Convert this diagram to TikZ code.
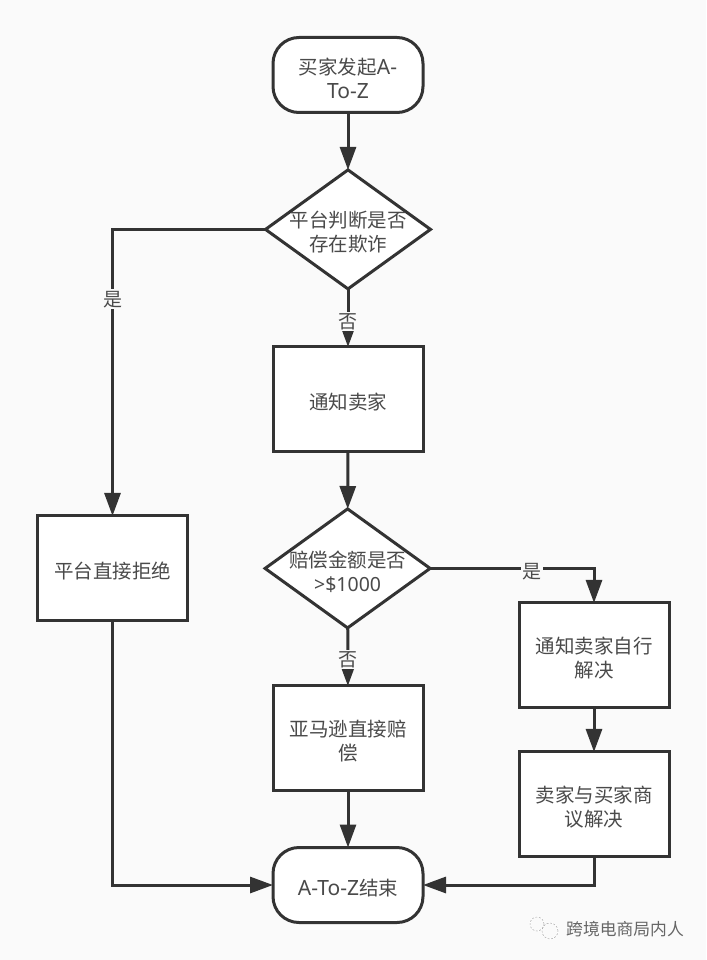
\documentclass[tikz,border=0pt]{standalone}
\usepackage{fontspec}
\setmainfont{Noto Sans CJK SC}
\newfontfamily\latfont{Noto Sans}
\newcommand{\lat}[1]{{\latfont\fontsize{21pt}{24pt}\selectfont #1}}
\newcommand{\num}[1]{{\latfont\fontsize{19.5pt}{24pt}\selectfont #1}}
\usetikzlibrary{shapes.geometric,arrows.meta}
\definecolor{bgcol}{HTML}{FAFAFA}
\definecolor{linecol}{HTML}{333333}
\definecolor{textcol}{HTML}{4A4A4A}
\tikzset{
  procbox/.style={draw=linecol,fill=white,line width=3pt,minimum width=150pt,minimum height=105pt,inner sep=0pt,outer sep=0pt},
  termbox/.style={procbox,minimum height=75pt,rounded corners=26pt},
  decbox/.style={draw=linecol,fill=white,line width=3pt,diamond,aspect=1.38,minimum width=165pt,minimum height=119pt,inner sep=0pt,outer sep=0pt},
  boxtext/.style={align=center,text=textcol,yshift=-3pt,font=\fontsize{19.5pt}{24pt}\selectfont},
  flow/.style={draw=linecol,line width=3pt,-{Triangle[length=23pt,width=16pt]}},
  yesno/.style={fill=bgcol,text=textcol,inner sep=1.5pt,font=\fontsize{19pt}{20pt}\selectfont},
}
\begin{document}
\begin{tikzpicture}[x=1pt,y=-1pt]
\fill[bgcol] (0,0) rectangle (706,960);
\useasboundingbox (0,0) rectangle (706,960);
\node[termbox,label={[boxtext]center:买家发起\lat{A-}\\\lat{To-Z}}] (start) at (348,75) {};
\node[decbox,label={[boxtext]center:平台判断是否\\存在欺诈}] (fraud) at (348,229.4) {};
\node[procbox,label={[boxtext]center:通知卖家}] (notify) at (348,399.4) {};
\node[decbox,label={[boxtext]center:赔偿金额是否\\\num{>\$1000}}] (amount) at (347.6,568.4) {};
\node[procbox,label={[boxtext]center:平台直接拒绝}] (reject) at (112.5,568.4) {};
\node[procbox,label={[boxtext]center:通知卖家自行\\解决}] (selfsolve) at (594,655.4) {};
\node[procbox,label={[boxtext]center:卖家与买家商\\议解决}] (negotiate) at (594,804.4) {};
\node[procbox,label={[boxtext]center:亚马逊直接赔\\偿}] (amazon) at (348,738.4) {};
\node[termbox,label={[boxtext]center:\lat{A-To-Z}结束}] (finish) at (348,885) {};
\draw[flow] (start) -- (fraud);
\draw[flow] (fraud) -- node[yesno,pos=.56] (no1) {否} (notify);
\draw[flow] (fraud.west) -| node[yesno,pos=.622] (yes1) {是} (reject.north);
\draw[flow] (notify) -- (amount);
\draw[flow] (amount) -- node[yesno,pos=.55] (no2) {否} (amazon);
\draw[flow] (amount.east) -| node[yesno,pos=.31,yshift=-3pt] (yes2) {是} (selfsolve.north);
\draw[flow] (selfsolve) -- (negotiate);
\draw[flow] (amazon) -- (finish);
\draw[flow] (reject.south) |- (finish.west);
\draw[flow] (negotiate.south) |- (finish.east);
\draw[white,line width=1.5pt] (537,924) circle(7pt);
\draw[white,line width=1.5pt] (550,931) circle(8pt);
\draw[gray!70,line width=.5pt,dash pattern=on 2pt off 1.5pt] (537,924) circle(7pt);
\draw[gray!70,line width=.5pt,dash pattern=on 2pt off 1.5pt] (550,931) circle(8pt);
\node[text=gray!80!black,font=\fontsize{16.8pt}{18pt}\selectfont,inner sep=0pt] (mark) at (625,929) {跨境电商局内人};
\end{tikzpicture}
\end{document}
